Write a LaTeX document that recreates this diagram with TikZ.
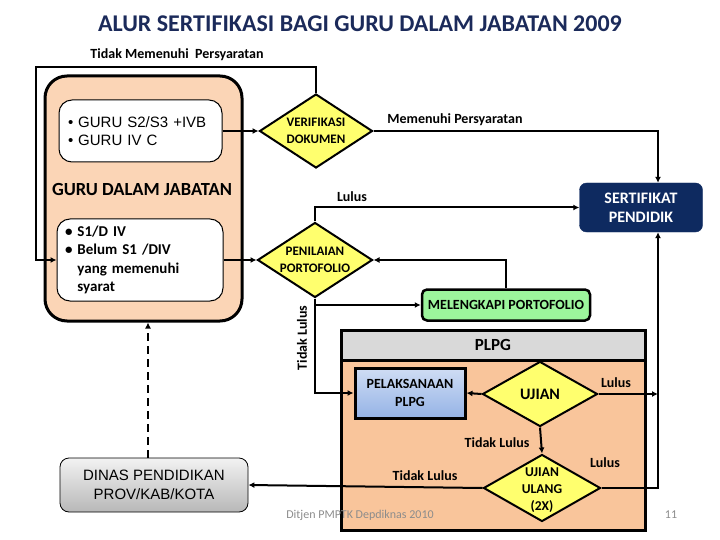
\documentclass[tikz,border=0pt]{standalone}
\usepackage{fontspec}
\setmainfont{Carlito}
\newfontfamily\arialfont{Liberation Sans}
\usetikzlibrary{positioning, shapes.geometric, arrows.meta, calc}
\definecolor{alurjudul}{HTML}{1B2A5A}
\definecolor{alurnavy}{HTML}{0E2A60}
\definecolor{alurpeach}{HTML}{F9C59B}
\definecolor{alurmuda}{HTML}{FBD5B6}
\definecolor{alurkuning}{HTML}{FFFF6E}
\definecolor{alurhijau}{HTML}{9CF59C}
\definecolor{alurabu}{HTML}{D9D9D9}
\definecolor{alurbiru}{HTML}{95B3E6}
\definecolor{alurteks}{HTML}{8C8C8C}
\tikzset{
  garis/.style={line width=2pt},
  panah/.style={garis, -{Latex[length=6pt,width=6pt]}},
  putus/.style={panah, dash pattern=on 8pt off 5pt},
  keputusan/.style={diamond, aspect=1.5, draw, line width=2pt, fill=alurkuning, inner sep=0pt, align=center},
  kotakputih/.style={draw, line width=1pt, fill=white, rounded corners=13pt, align=left},
  ket/.style={font=\bfseries\fontsize{14}{16}\selectfont},
}
\begin{document}
\begin{tikzpicture}[x=1pt, y=-1pt]
    \useasboundingbox (0,0) rectangle (720,540);
    \node[text=alurjudul, font=\bfseries\fontsize{24}{28}\selectfont] (judul) at (360,24) {ALUR SERTIFIKASI BAGI GURU DALAM JABATAN 2009};
    % guru dalam jabatan
    \node[draw, line width=3pt, fill=alurmuda, rounded corners=22pt, minimum width=197pt, minimum height=245pt] (guru) at (143.5,198.5) {};
    \node[kotakputih, minimum width=163pt, minimum height=62pt, text width=145pt, font=\arialfont\fontsize{15}{18}\selectfont] (guruA) at (140.5,131) {\textbullet\ GURU S2/S3 +IVB\\\textbullet\ GURU IV C};
    \node[font=\bfseries\fontsize{18.5}{20}\selectfont] (jabatan) at (142,190) {GURU DALAM JABATAN};
    \node[kotakputih, minimum width=166pt, minimum height=82pt, text width=150pt, font=\bfseries\fontsize{15}{18.5}\selectfont] (guruB) at (140,260) {\textbullet\ S1/D IV\\\textbullet\ Belum S1 /DIV\\\phantom{\textbullet\ }yang memenuhi\\\phantom{\textbullet\ }syarat};
    % keputusan
    \node[keputusan, minimum width=113pt, minimum height=74pt, font=\bfseries\fontsize{13}{17}\selectfont] (verif) at (316,131) {VERIFIKASI\\DOKUMEN};
    \node[keputusan, minimum width=115pt, minimum height=75pt, font=\bfseries\fontsize{13}{17}\selectfont] (nilai) at (315,260) {PENILAIAN\\PORTOFOLIO};
    \node[draw=alurnavy, fill=alurnavy, rounded corners=7pt, minimum width=123pt, minimum height=49pt, text=white, align=center, font=\bfseries\fontsize{16}{19}\selectfont] (sertif) at (641,207.5) {SERTIFIKAT\\PENDIDIK};
    \node[draw, line width=2.5pt, fill=alurhijau, rounded corners=5pt, minimum width=168pt, minimum height=31pt, font=\bfseries\fontsize{14}{16}\selectfont] (lengkap) at (506,305) {MELENGKAPI PORTOFOLIO};
    % plpg
    \node[draw, line width=3pt, fill=alurpeach, minimum width=304pt, minimum height=170pt] (plpg) at (493,445) {};
    \node[draw, line width=3pt, fill=alurabu, minimum width=304pt, minimum height=30pt, font=\bfseries\fontsize{17}{18}\selectfont] (plpgjudul) at (493,345) {PLPG};
    \node[draw, line width=3pt, top color=alurbiru!45, bottom color=alurbiru, minimum width=110pt, minimum height=50pt, align=center, font=\bfseries\fontsize{14}{18}\selectfont] (laksana) at (410,393) {PELAKSANAAN\\PLPG};
    \node[keputusan, aspect=1.75, minimum width=115pt, minimum height=65pt, font=\bfseries\fontsize{16}{18}\selectfont] (ujian) at (540,394) {UJIAN};
    \node[keputusan, aspect=1.75, minimum width=117pt, minimum height=67pt] (ulang) at (542,488) {};
    \node[align=center, inner sep=0pt, font=\bfseries\fontsize{13.5}{17}\selectfont] (ulangteks) at (542,490) {UJIAN\\ULANG\\(2X)};
    % dinas
    \node[draw, line width=0.8pt, top color=white!95!black, bottom color=white!72!black, rounded corners=9pt, minimum width=188pt, minimum height=54pt, align=center, font=\arialfont\fontsize{15}{19}\selectfont] (dinas) at (154,485) {DINAS PENDIDIKAN\\PROV/KAB/KOTA};
    \coordinate (kiri) at (36,67);
    \coordinate (kanan) at (658,300);
    \coordinate (putusx) at (148,400);
    % connectors
    \draw[panah] (verif.north) |- (kiri) |- (guruB.west);
    \node[ket] (tidakpenuhi) at (177,55) {Tidak Memenuhi\ \ Persyaratan};
    \draw[panah] (guruA.east) -- (verif.west);
    \draw[panah] (verif.east) -| (sertif.north -| kanan);
    \node[ket] (penuhi) at (455,120) {Memenuhi Persyaratan};
    \draw[panah] (guruB.east) -- (nilai.west);
    \draw[panah] (nilai.north) |- (sertif.west);
    \node[ket] (lulusA) at (352,197) {Lulus};
    \draw[panah] (lengkap.north) |- (nilai.east);
    \draw[panah] (nilai.south) |- (lengkap.west);
    \draw[panah] (nilai.south) |- (laksana.west);
    \node[ket, rotate=90] (tidakA) at (302,338) {Tidak Lulus};
    \draw[panah] (ujian.west) -- (laksana.east);
    \draw[panah] (ujian.east) -- (ujian.east -| kanan);
    \node[ket] (lulusB) at (616,383) {Lulus};
    \draw[panah] (ujian.south) -- (ulang.north);
    \node[ket] (tidakB) at (497,443) {Tidak Lulus};
    \draw[panah] (ulang.east) -| (sertif.south -| kanan);
    \node[ket] (lulusC) at (605,463) {Lulus};
    \draw[panah] (ulang.west) -- (dinas.east);
    \node[ket] (tidakC) at (425,476) {Tidak Lulus};
    \draw[putus] (dinas.north -| putusx) -- (guru.south -| putusx);
    % kaki
    \node[text=alurteks, font=\fontsize{12}{14}\selectfont] (kaki) at (360,515) {Ditjen PMPTK Depdiknas 2010};
    \node[text=alurteks, font=\fontsize{12}{14}\selectfont] (halaman) at (671,515) {11};
\end{tikzpicture}
\end{document}
